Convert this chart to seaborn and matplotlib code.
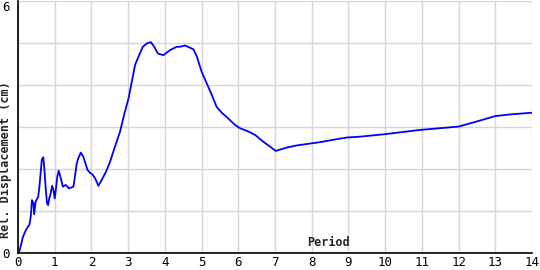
import matplotlib
matplotlib.use("Agg")
import matplotlib.pyplot as plt
import seaborn as sns
import pandas as pd

period = [0.03, 0.07, 0.13, 0.19, 0.25, 0.31, 0.35, 0.38, 0.42, 0.44, 0.48, 0.55, 0.58, 0.62, 0.65, 0.69,
          0.72, 0.75, 0.79, 0.82, 0.85, 0.89, 0.93, 0.97, 1.00, 1.04, 1.07, 1.11, 1.14, 1.19, 1.22, 1.30,
          1.39, 1.46, 1.51, 1.55, 1.60, 1.64, 1.71, 1.78, 1.84, 1.89, 1.96, 2.03, 2.10, 2.19, 2.28, 2.40,
          2.51, 2.64, 2.78, 2.89, 3.01, 3.10, 3.19, 3.28, 3.40, 3.51, 3.62, 3.71, 3.81, 3.96, 4.14, 4.32,
          4.41, 4.55, 4.78, 4.87, 5.00, 5.14, 5.28, 5.41, 5.55, 5.73, 5.91, 6.05, 6.28, 6.46, 6.68, 6.87,
          7.02, 7.32, 7.59, 7.91, 8.23, 8.68, 8.96, 9.32, 10.0, 10.95, 12.0, 12.41, 13.0, 13.41, 14.0]
displacement = [0.02, 0.15, 0.37, 0.50, 0.60, 0.67, 0.88, 1.26, 1.19, 0.92, 1.22, 1.34, 1.55, 1.94, 2.23, 2.28,
                1.98, 1.58, 1.19, 1.14, 1.30, 1.42, 1.60, 1.48, 1.30, 1.58, 1.82, 1.96, 1.86, 1.70, 1.58, 1.62,
                1.54, 1.56, 1.58, 1.82, 2.13, 2.25, 2.39, 2.29, 2.13, 1.98, 1.91, 1.87, 1.78, 1.60, 1.74, 1.94,
                2.18, 2.53, 2.89, 3.29, 3.68, 4.08, 4.48, 4.67, 4.91, 4.99, 5.02, 4.91, 4.75, 4.71, 4.83, 4.91,
                4.91, 4.94, 4.85, 4.68, 4.32, 4.04, 3.76, 3.48, 3.34, 3.20, 3.05, 2.97, 2.89, 2.81, 2.65, 2.53,
                2.43, 2.51, 2.56, 2.60, 2.64, 2.71, 2.75, 2.77, 2.83, 2.93, 3.01, 3.11, 3.26, 3.30, 3.34]
x_ticks = list(range(0, 15))
y_tick_labels = ["0", "", "", "", "", "", "6"]

df = pd.DataFrame({"Period": period, "Disp": displacement})

sns.set_style("white")
plt.rcParams['font.family'] = ['DejaVu Sans Mono', 'DejaVu Sans']

fig = plt.figure(figsize=(5.4, 2.7), dpi=100)
ax = fig.add_axes([18/540, 17/270, 514/540, 252/270])

sns.lineplot(data=df, x="Period", y="Disp", ax=ax, color="#0000ff", linewidth=1.3, sort=False)

ax.set_xlim(0, 14)
ax.set_ylim(0, 6)
ax.set_xticks(x_ticks)
ax.set_xticklabels([str(t) for t in x_ticks])
ax.set_yticks(range(0, 7))
ax.set_yticklabels(y_tick_labels)
ax.grid(True, color="#d6d6d6", linewidth=1.0)
ax.set_axisbelow(True)
for s in ["top", "right"]:
    ax.spines[s].set_visible(False)
for s in ["left", "bottom"]:
    ax.spines[s].set_color("black")
    ax.spines[s].set_linewidth(1.2)
ax.tick_params(axis="both", direction="in", length=3, width=1, colors="black", labelsize=9, pad=2)
ax.tick_params(axis="y", pad=6)
ax.get_yticklabels()[-1].set_va("top")
ax.set_xlabel("")
ax.set_ylabel("Rel. Displacement (cm)", fontsize=8.5, fontweight="bold")
ax.yaxis.set_label_coords(-0.011, 0.37)
ax.text(8.47, 0.26, "Period", fontsize=8.5, fontweight="bold", ha="center", va="center")

fig.savefig("out.png", dpi=100)
